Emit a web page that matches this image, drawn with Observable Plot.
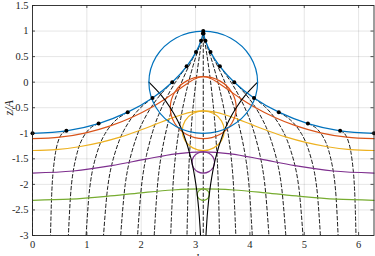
<!DOCTYPE html>
<html><head><meta charset="utf-8">
<script src="https://cdn.jsdelivr.net/npm/d3@7"></script>
<script src="https://cdn.jsdelivr.net/npm/@observablehq/plot@0.6"></script>
<style>html,body{margin:0;padding:0;background:#fff;overflow:hidden}#chart svg{display:block}</style>
</head><body><div id="chart"></div>
<script>
// ---- data ----
const xTicks = [0, 1, 2, 3, 4, 5, 6];
const yTicks = [-3, -2.5, -2, -1.5, -1, -0.5, 0, 0.5, 1, 1.5];
const xDomain = [0, 6.2832];
const yDomain = [-3, 1.5];

// surface (blue) with particle dots
const surfaceX = [0, 0.6232, 1.2161, 1.7515, 2.2077, 2.5708, 2.8361, 3.0081, 3.1011, 3.1364, 3.1416, 3.1468, 3.1821, 3.2751, 3.4471, 3.7124, 4.0755, 4.5317, 5.0671, 5.6600, 6.2832];
const surfaceZ = [-1, -0.9511, -0.8090, -0.5878, -0.3090, 0, 0.3090, 0.5878, 0.8090, 0.9511, 1, 0.9511, 0.8090, 0.5878, 0.3090, 0, -0.3090, -0.5878, -0.8090, -0.9511, -1];

// deeper level lines
const orangeX = [0, 0.5016, 0.9848, 1.4332, 1.8334, 2.1773, 2.4618, 2.6898, 2.8698, 3.0148, 3.1416, 3.2684, 3.4134, 3.5934, 3.8214, 4.1059, 4.4498, 4.8500, 5.2984, 5.7816, 6.2832];
const orangeZ = [-1.1065, -1.0768, -0.9907, -0.8565, -0.6874, -0.5, -0.3126, -0.1435, -0.0093, 0.0768, 0.1065, 0.0768, -0.0093, -0.1435, -0.3126, -0.5, -0.6874, -0.8565, -0.9907, -1.0768, -1.1065];
const yellowX = [0, 0.4338, 0.8558, 1.2556, 1.6247, 1.9578, 2.2531, 2.5122, 2.7408, 2.9470, 3.1416, 3.3362, 3.5424, 3.7710, 4.0301, 4.3254, 4.6585, 5.0276, 5.4274, 5.8494, 6.2832];
const yellowZ = [-1.337, -1.3181, -1.2631, -1.1775, -1.0696, -0.95, -0.8304, -0.7225, -0.6369, -0.5819, -0.563, -0.5819, -0.6369, -0.7225, -0.8304, -0.95, -1.0696, -1.1775, -1.2631, -1.3181, -1.337];
const purpleX = [0, 0.7506, 1.4544, 2.0828, 2.6356, 3.1416, 3.6476, 4.2004, 4.8288, 5.5326, 6.2832];
const purpleZ = [-1.778, -1.7383, -1.6343, -1.5057, -1.4017, -1.362, -1.4017, -1.5057, -1.6343, -1.7383, -1.778];
const greenX = [0, 0.6935, 1.3622, 1.9906, 2.5785, 3.1416, 3.7047, 4.2926, 4.9210, 5.5897, 6.2832];
const greenZ = [-2.311, -2.2898, -2.2343, -2.1657, -2.1102, -2.089, -2.1102, -2.1657, -2.2343, -2.2898, -2.311];

// orbits (circles) under the crest
const blueOrbitX = [4.1416, 4.0076, 3.6416, 3.1416, 2.6416, 2.2756, 2.1416, 2.2756, 2.6416, 3.1416, 3.6416, 4.0076];
const blueOrbitZ = [0, 0.5, 0.866, 1, 0.866, 0.5, 0, -0.5, -0.866, -1, -0.866, -0.5];
const orangeOrbitX = [3.7481, 3.6668, 3.4449, 3.1416, 2.8383, 2.6164, 2.5351, 2.6164, 2.8383, 3.1416, 3.4449, 3.6668];
const orangeOrbitZ = [-0.5, -0.1967, 0.0252, 0.1065, 0.0252, -0.1967, -0.5, -0.8033, -1.0252, -1.1065, -1.0252, -0.8033];
const yellowOrbitX = [3.5286, 3.4767, 3.3351, 3.1416, 2.9481, 2.8065, 2.7546, 2.8065, 2.9481, 3.1416, 3.3351, 3.4767];
const yellowOrbitZ = [-0.95, -0.7565, -0.6149, -0.563, -0.6149, -0.7565, -0.95, -1.1435, -1.2851, -1.337, -1.2851, -1.1435];
const purpleOrbitX = [3.3496, 3.3217, 3.2456, 3.1416, 3.0376, 2.9615, 2.9336, 2.9615, 3.0376, 3.1416, 3.2456, 3.3217];
const purpleOrbitZ = [-1.57, -1.466, -1.3899, -1.362, -1.3899, -1.466, -1.57, -1.674, -1.7501, -1.778, -1.7501, -1.674];
const greenOrbitX = [3.2526, 3.2377, 3.1971, 3.1416, 3.0861, 3.0455, 3.0306, 3.0455, 3.0861, 3.1416, 3.1971, 3.2377];
const greenOrbitZ = [-2.2, -2.1445, -2.1039, -2.089, -2.1039, -2.1445, -2.2, -2.2555, -2.2961, -2.311, -2.2961, -2.2555];

// envelope of the orbits (black)
const envelopeZ = [0, -0.25, -0.5, -0.75, -1, -1.5, -2, -2.5, -3];
const envelopeLeftX = [2.1416, 2.3628, 2.5351, 2.6692, 2.7737, 2.9185, 3.0063, 3.0595, 3.0918];
const envelopeRightX = [4.1416, 3.9204, 3.7481, 3.6140, 3.5095, 3.3647, 3.2769, 3.2237, 3.1914];

// dashed particle label lines (one row per line)
const pathX = [
  [0, 0],
  [0.6232, 0.5549, 0.5016, 0.4602, 0.4279, 0.3831, 0.3560, 0.3281],
  [1.2161, 1.0861, 0.9848, 0.9060, 0.8446, 0.7594, 0.7078, 0.6548],
  [1.7515, 1.5725, 1.4332, 1.3247, 1.2401, 1.1230, 1.0520, 0.9789],
  [2.2077, 1.9973, 1.8334, 1.7059, 1.6065, 1.4688, 1.3853, 1.2994],
  [2.5708, 2.3496, 2.1773, 2.0432, 1.9387, 1.7939, 1.7061, 1.6158],
  [2.8361, 2.6257, 2.4618, 2.3343, 2.2349, 2.0972, 2.0137, 1.9278],
  [3.0081, 2.8291, 2.6898, 2.5813, 2.4967, 2.3796, 2.3086, 2.2355],
  [3.1011, 2.9711, 2.8698, 2.7910, 2.7296, 2.6444, 2.5928, 2.5398],
  [3.1364, 3.0681, 3.0148, 2.9734, 2.9411, 2.8963, 2.8692, 2.8413],
  [3.1416, 3.1416],
  [3.1468, 3.2151, 3.2684, 3.3098, 3.3421, 3.3869, 3.4140, 3.4419],
  [3.1821, 3.3121, 3.4134, 3.4922, 3.5536, 3.6388, 3.6904, 3.7434],
  [3.2751, 3.4541, 3.5934, 3.7019, 3.7865, 3.9036, 3.9746, 4.0477],
  [3.4471, 3.6575, 3.8214, 3.9489, 4.0483, 4.1860, 4.2695, 4.3554],
  [3.7124, 3.9336, 4.1059, 4.2400, 4.3445, 4.4893, 4.5771, 4.6674],
  [4.0755, 4.2859, 4.4498, 4.5773, 4.6767, 4.8144, 4.8979, 4.9838],
  [4.5317, 4.7107, 4.8500, 4.9585, 5.0431, 5.1602, 5.2312, 5.3043],
  [5.0671, 5.1971, 5.2984, 5.3772, 5.4386, 5.5238, 5.5754, 5.6284],
  [5.6600, 5.7283, 5.7816, 5.8230, 5.8553, 5.9001, 5.9272, 5.9551],
  [6.2832, 6.2832]
];
const pathZ = [
  [-1, -3.1],
  [-0.9511, -0.9907, -1.0768, -1.1993, -1.3499, -1.7122, -2.1287, -3.1428],
  [-0.8090, -0.8800, -0.9907, -1.1322, -1.2976, -1.6805, -2.1095, -3.1364],
  [-0.5878, -0.7078, -0.8565, -1.0277, -1.2163, -1.6311, -2.0795, -3.1265],
  [-0.3090, -0.4907, -0.6874, -0.8960, -1.1137, -1.5689, -2.0418, -3.1139],
  [0, -0.25, -0.5, -0.75, -1, -1.5, -2, -3.1],
  [0.3090, -0.0093, -0.3126, -0.6040, -0.8863, -1.4311, -1.9582, -3.0861],
  [0.5878, 0.2078, -0.1435, -0.4723, -0.7837, -1.3689, -1.9205, -3.0735],
  [0.8090, 0.3800, -0.0093, -0.3678, -0.7024, -1.3195, -1.8905, -3.0636],
  [0.9511, 0.4907, 0.0768, -0.3007, -0.6321, -1.2878, -1.8713, -3.0572],
  [1, -3.1],
  [0.9511, 0.4907, 0.0768, -0.3007, -0.6321, -1.2878, -1.8713, -3.0572],
  [0.8090, 0.3800, -0.0093, -0.3678, -0.7024, -1.3195, -1.8905, -3.0636],
  [0.5878, 0.2078, -0.1435, -0.4723, -0.7837, -1.3689, -1.9205, -3.0735],
  [0.3090, -0.0093, -0.3126, -0.6040, -0.8863, -1.4311, -1.9582, -3.0861],
  [0, -0.25, -0.5, -0.75, -1, -1.5, -2, -3.1],
  [-0.3090, -0.4907, -0.6874, -0.8960, -1.1137, -1.5689, -2.0418, -3.1139],
  [-0.5878, -0.7078, -0.8565, -1.0277, -1.2163, -1.6311, -2.0795, -3.1265],
  [-0.8090, -0.8800, -0.9907, -1.1322, -1.2976, -1.6805, -2.1095, -3.1364],
  [-0.9511, -0.9907, -1.0768, -1.1993, -1.3499, -1.7122, -2.1287, -3.1428],
  [-1, -3.1]
];

const yLabel = "z/A";
const xLabel = "kx";

// ---- build tables ----
const rows = (xs, zs, id) => xs.map((x, i) => ({x, z: zs[i], id}));
const surface = rows(surfaceX, surfaceZ, "surface");
const paths = pathX.flatMap((xs, k) => rows(xs, pathZ[k], k));
const levels = [
  {d: rows(orangeX, orangeZ, "o"), c: "#D95319"},
  {d: rows(yellowX, yellowZ, "y"), c: "#EDB120"},
  {d: rows(purpleX, purpleZ, "p"), c: "#7E2F8E"},
  {d: rows(greenX, greenZ, "g"), c: "#77AC30"}
];
const orbits = [
  {d: rows(orangeOrbitX, orangeOrbitZ, "o"), c: "#D95319"},
  {d: rows(yellowOrbitX, yellowOrbitZ, "y"), c: "#EDB120"},
  {d: rows(purpleOrbitX, purpleOrbitZ, "p"), c: "#7E2F8E"},
  {d: rows(greenOrbitX, greenOrbitZ, "g"), c: "#77AC30"}
];
const blueOrbit = rows(blueOrbitX, blueOrbitZ, "b");
const envL = rows(envelopeLeftX, envelopeZ, "l");
const envR = rows(envelopeRightX, envelopeZ, "r");
const yTickRows = yTicks.map(v => ({v, x0: xDomain[0]}));

const W = 375, H = 256, mt = 5, mb = 21, ml = 32, mr = 1.5;
const ph = H - mt - mb, pw = W - ml - mr;
const ink = "#262626";
const serif = "'Liberation Serif', 'DejaVu Serif', serif";
const fmt = d => String(d);

const chart = Plot.plot({
  width: W, height: H,
  marginTop: mt, marginBottom: mb, marginLeft: ml, marginRight: mr,
  style: {fontFamily: serif, fontSize: "10.5px", color: ink, background: "#fff"},
  x: {domain: xDomain, axis: null},
  y: {domain: yDomain, axis: null},
  marks: [
    Plot.gridX(xTicks, {stroke: "#000", strokeOpacity: 0.1}),
    Plot.gridY(yTicks, {stroke: "#000", strokeOpacity: 0.1}),
    Plot.line(paths, {x: "x", y: "z", z: "id", curve: "catmull-rom", stroke: "#000", strokeWidth: 0.9, strokeDasharray: "3.5,2.5", clip: true}),
    ...levels.map(l => Plot.line(l.d, {x: "x", y: "z", curve: "catmull-rom", stroke: l.c, strokeWidth: 1.2})),
    ...orbits.map(o => Plot.line(o.d, {x: "x", y: "z", curve: "catmull-rom-closed", stroke: o.c, strokeWidth: 1.2})),
    Plot.line(envL, {x: "x", y: "z", curve: "catmull-rom", stroke: "#000", strokeWidth: 1.1}),
    Plot.line(envR, {x: "x", y: "z", curve: "catmull-rom", stroke: "#000", strokeWidth: 1.1}),
    Plot.line(blueOrbit, {x: "x", y: "z", curve: "catmull-rom-closed", stroke: "#0072BD", strokeWidth: 1.2}),
    Plot.line(surface, {x: "x", y: "z", curve: "catmull-rom", stroke: "#0072BD", strokeWidth: 1.3}),
    Plot.dot(surface, {x: "x", y: "z", r: 2, fill: "#000", stroke: null}),
    // inward ticks
    Plot.ruleX(xTicks, {x: d => d, insetTop: ph - 3, stroke: ink, strokeWidth: 0.8}),
    Plot.ruleX(xTicks, {x: d => d, insetBottom: ph - 3, stroke: ink, strokeWidth: 0.8}),
    Plot.ruleY(yTicks, {y: d => d, insetRight: pw - 3, stroke: ink, strokeWidth: 0.8}),
    Plot.ruleY(yTicks, {y: d => d, insetLeft: pw - 3, stroke: ink, strokeWidth: 0.8}),
    Plot.frame({stroke: ink, strokeWidth: 0.9}),
    // tick labels
    Plot.text(xTicks, {x: d => d, frameAnchor: "bottom", dy: 5, lineAnchor: "top", text: fmt, fill: ink}),
    Plot.text(yTickRows, {x: "x0", y: "v", dx: -4, textAnchor: "end", lineAnchor: "middle", text: d => fmt(d.v), fill: ink}),
    Plot.text([yLabel], {frameAnchor: "left", dx: -23, dy: -5, rotate: -90, text: d => d, fontStyle: "italic", fontSize: 12, fill: ink}),
    Plot.text([xLabel], {frameAnchor: "bottom", dx: -2, dy: 19, lineAnchor: "top", text: d => d, fontStyle: "italic", fontSize: 12, fill: ink})
  ]
});
document.getElementById("chart").appendChild(chart);
</script>
</body></html>
